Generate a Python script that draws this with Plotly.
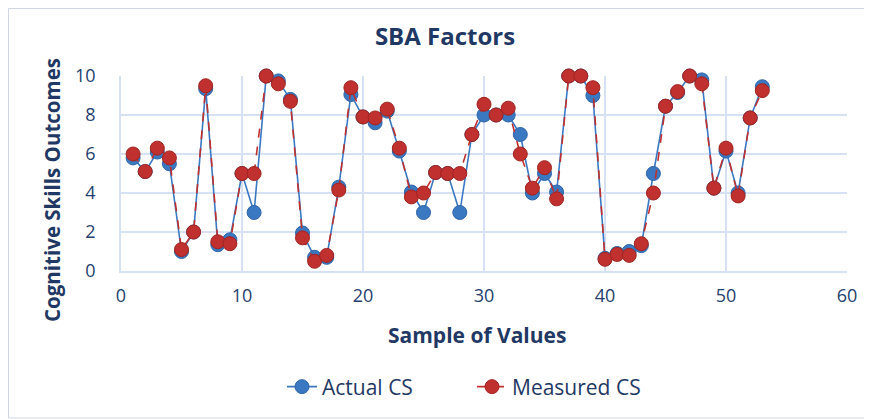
import plotly.graph_objects as go

samples = list(range(1, 54))
actual_cs = [5.8, 5.1, 6.1, 5.5, 1.0, 2.0, 9.35, 1.35, 1.6, 5.0,
             3.0, 10.0, 9.75, 8.8, 1.95, 0.7, 0.7, 4.3, 9.05, 7.9,
             7.6, 8.2, 6.15, 4.05, 3.0, 5.05, 5.0, 3.0, 7.0, 8.0,
             8.0, 8.0, 7.0, 4.0, 5.0, 4.05, 10.0, 10.0, 9.0, 0.65,
             0.9, 1.0, 1.3, 5.0, 8.45, 9.15, 10.0, 9.8, 4.25, 6.15,
             4.0, 7.85, 9.45]
measured_cs = [6.0, 5.1, 6.3, 5.8, 1.1, 2.0, 9.5, 1.5, 1.4, 5.0,
               5.0, 10.0, 9.6, 8.7, 1.7, 0.5, 0.8, 4.15, 9.4, 7.9,
               7.85, 8.3, 6.3, 3.8, 4.0, 5.05, 5.0, 5.0, 7.0, 8.55,
               8.0, 8.35, 6.0, 4.25, 5.3, 3.7, 10.0, 10.0, 9.4, 0.6,
               0.85, 0.8, 1.4, 4.0, 8.45, 9.2, 10.0, 9.6, 4.25, 6.3,
               3.85, 7.85, 9.25]
x_ticks = [0, 10, 20, 30, 40, 50, 60]
y_ticks = [0, 2, 4, 6, 8, 10]

FONT = "Open Sans"
NAVY = "#1F3864"
TICK = "#25416E"
BLUE = "#3A78C2"
RED = "#C0302E"
GRID = "#D6E2F3"

fig = go.Figure()
fig.add_trace(go.Scatter(
    x=samples, y=actual_cs, name="Actual CS", mode="lines+markers",
    line=dict(color=BLUE, width=1.6),
    marker=dict(size=14, color=BLUE, line=dict(color="#2F65A8", width=1)),
    cliponaxis=False,
))
fig.add_trace(go.Scatter(
    x=samples, y=measured_cs, name="Measured CS", mode="lines+markers",
    line=dict(color=RED, width=1.6, dash="dash"),
    marker=dict(size=14, color=RED, line=dict(color="#A02422", width=1)),
    cliponaxis=False,
))

# page body has an 8px margin, so the figure is sized to the visible area
W, H = 864, 411
L, R, T, B = 113, 25, 68, 148
pw, ph = W - L - R, H - T - B

def px(xp):
    return (xp - L) / pw

def py(yp):
    return (H - B - yp) / ph

fig.add_shape(type="rect", xref="paper", yref="paper",
              x0=px(0.5), x1=px(W - 3), y0=py(H - 1), y1=py(0.5),
              line=dict(color="#D0D7E2", width=1), layer="below")

fig.add_annotation(text="<b>Cognitive Skills Outcomes</b>", textangle=-90,
                   xref="paper", yref="paper", x=px(44), y=py(182),
                   xanchor="center", yanchor="middle", showarrow=False,
                   font=dict(family=FONT, size=20.5, color=NAVY))
fig.add_annotation(text="<b>Sample of Values</b>",
                   xref="paper", yref="paper", x=px(469), y=py(327),
                   xanchor="center", yanchor="middle", showarrow=False,
                   font=dict(family=FONT, size=21, color=NAVY))

fig.update_layout(
    width=W, height=H,
    margin=dict(l=L, r=R, t=T, b=B),
    paper_bgcolor="white", plot_bgcolor="white",
    font=dict(family=FONT, color=TICK),
    title=dict(text="<b>SBA Factors</b>", x=437 / W, xanchor="center",
               y=1 - 29 / H, yanchor="middle", xref="container", yref="container",
               font=dict(family=FONT, size=24, color=NAVY)),
    xaxis=dict(range=[0, 60], tickvals=x_ticks, showgrid=True, gridcolor=GRID,
               gridwidth=1.5, zeroline=False, showline=True, linecolor=GRID,
               linewidth=1.5, ticks="", tickfont=dict(size=18, color=TICK),
               ticklabelstandoff=8),
    yaxis=dict(range=[0, 10], tickvals=y_ticks, showgrid=True, gridcolor=GRID,
               gridwidth=1.5, zeroline=False, showline=True, linecolor=GRID,
               linewidth=1.5, ticks="", tickfont=dict(size=18, color=TICK),
               ticklabelstandoff=20),
    legend=dict(orientation="h", xref="container", yref="container",
                x=(282 - 8) / W, xanchor="left", y=1 - 379 / H, yanchor="middle",
                font=dict(family=FONT, size=21, color=NAVY),
                entrywidth=145, entrywidthmode="pixels",
                traceorder="normal"),
    showlegend=True,
)

fig.write_html("out.html")
